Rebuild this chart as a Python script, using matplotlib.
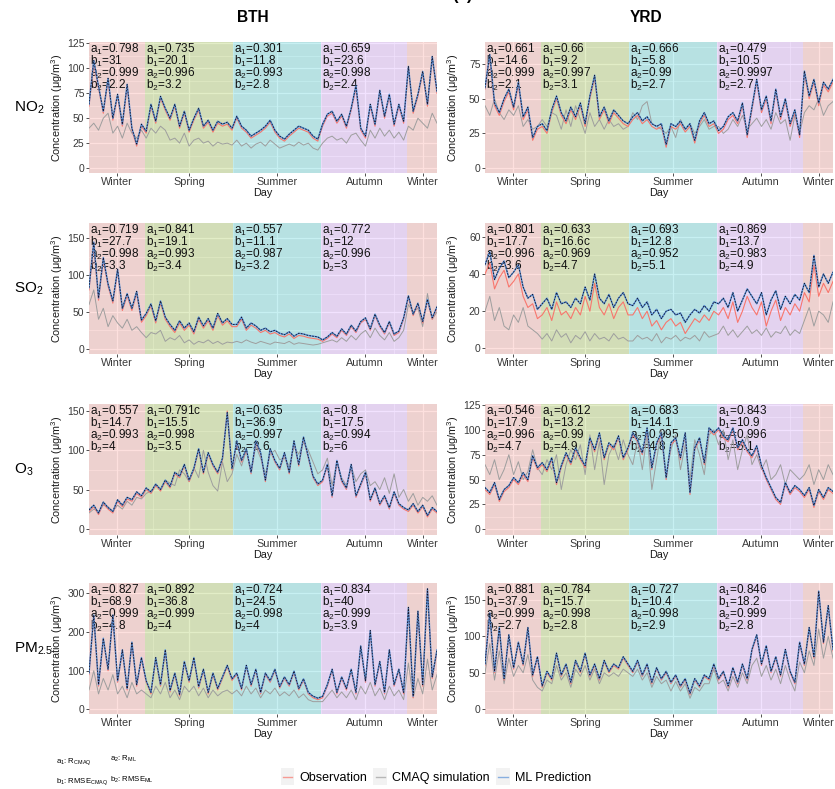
import matplotlib
matplotlib.use('Agg')
import matplotlib.pyplot as plt
from matplotlib import font_manager
from matplotlib.lines import Line2D
from matplotlib.patches import Rectangle
from matplotlib.legend_handler import HandlerBase
from matplotlib.ticker import FixedLocator, AutoMinorLocator

installed = {f.name for f in font_manager.fontManager.ttflist}
narrow = 'Liberation Sans Narrow' if 'Liberation Sans Narrow' in installed else 'Liberation Sans'

plt.rcParams['font.family'] = 'Liberation Sans'
plt.rcParams['mathtext.fontset'] = 'custom'
plt.rcParams['mathtext.rm'] = 'Liberation Sans'
plt.rcParams['mathtext.it'] = 'Liberation Sans:italic'
plt.rcParams['mathtext.bf'] = 'Liberation Sans:bold'
plt.rcParams['mathtext.sf'] = narrow

# sampled every 5 days through the year
days = list(range(0, 366, 5))
season_names = ['Winter', 'Spring', 'Summer', 'Autumn', 'Winter']
season_edges = [0, 59, 151, 243, 334, 365]
season_ticks = [29.5, 105, 197, 289, 350]
season_colors = ['#F8766D', '#7CAE00', '#00BFC4', '#C77CFF', '#F8766D']

# ---- NO2 ----
no2_bth_obs = [62,105,80,55,88,48,72,42,82,38,22,42,
               35,62,45,70,58,48,62,40,55,36,48,58,40,46,36,45,42,44,38,
               50,40,36,30,33,36,40,46,36,30,27,32,36,40,38,36,30,27,
               42,52,55,45,52,40,58,80,38,30,62,42,76,50,72,42,62,45,
               100,55,72,95,62,110,75]
no2_bth_ml = [64,108,82,57,90,50,74,44,84,40,24,44,
              37,64,47,72,60,50,64,42,57,38,50,60,42,48,38,47,44,46,40,
              52,42,38,32,35,38,42,48,38,32,29,34,38,42,40,38,32,29,
              44,54,57,47,54,42,60,83,40,32,64,44,78,52,74,44,64,47,
              102,57,74,97,64,112,77]
no2_bth_cmaq = [40,45,38,50,55,35,42,30,45,35,30,38,
                30,40,35,42,38,28,30,25,35,22,28,30,25,27,22,26,24,25,23,
                28,22,25,20,24,26,22,28,24,20,22,24,22,26,23,25,20,18,
                25,30,32,28,30,25,33,35,28,22,38,30,40,32,38,30,36,28,
                42,38,50,45,40,55,45]
no2_yrd_obs = [57,80,45,38,48,55,42,60,35,42,20,28,
               30,25,40,50,38,32,42,35,45,30,50,65,35,42,32,40,36,32,30,
               35,38,32,35,30,28,30,15,30,28,32,26,30,18,32,38,30,32,
               25,28,35,38,32,45,22,42,62,40,50,32,55,35,48,30,40,22,
               68,50,62,45,60,55,62]
no2_yrd_ml = [58,82,47,40,50,57,44,62,37,44,22,30,
              32,27,42,52,40,34,44,37,47,32,52,67,37,44,34,42,38,34,32,
              37,40,34,37,32,30,32,17,32,30,34,28,32,20,34,40,32,34,
              27,30,37,40,34,47,24,44,64,42,52,34,57,37,50,32,42,24,
              70,52,64,47,62,57,64]
no2_yrd_cmaq = [45,38,50,40,35,42,38,45,30,35,28,30,
                35,30,40,38,28,42,30,45,35,25,40,30,35,28,35,30,32,28,30,
                40,35,45,48,32,30,28,25,30,22,35,28,32,25,30,35,28,30,
                30,25,28,35,30,38,28,32,36,30,35,28,40,32,35,20,38,25,
                40,45,42,50,38,45,48]

# ---- SO2 ----
so2_bth_obs = [80,140,66,120,85,62,105,52,72,52,75,36,
               45,58,35,62,40,30,22,35,25,32,20,40,28,38,25,45,32,38,30,
               30,40,25,32,28,22,25,20,22,18,16,20,14,18,17,15,14,13,
               10,14,20,15,25,18,30,22,35,40,25,45,30,20,35,18,22,40,
               70,45,60,35,65,40,55]
so2_bth_ml = [83,145,69,124,88,65,108,55,75,55,78,39,
              48,61,38,65,43,33,25,38,28,35,23,43,31,41,28,48,35,41,33,
              33,43,28,35,31,25,28,23,25,21,19,23,17,21,20,18,17,16,
              12,16,22,17,27,20,32,24,37,42,27,47,32,22,37,20,24,42,
              72,47,62,37,67,42,57]
so2_bth_cmaq = [60,80,40,55,30,45,35,28,40,25,30,22,
                15,22,20,25,10,15,12,18,8,12,6,10,8,12,7,10,6,9,8,
                10,8,12,9,7,10,8,6,9,8,7,10,6,8,7,6,5,6,
                8,10,12,9,15,10,18,12,20,25,15,28,18,12,22,10,15,25,
                60,50,55,30,75,40,50]
so2_yrd_obs = [40,46,32,38,42,33,36,40,28,22,24,16,
               18,22,15,25,18,20,16,22,18,28,20,35,22,18,24,16,22,25,18,
               18,22,16,20,12,15,10,14,16,12,14,8,12,16,14,18,15,20,
               18,22,16,25,14,20,28,22,18,25,12,20,26,15,22,18,24,20,
               30,25,45,28,35,30,36]
so2_yrd_ml = [45,52,37,43,47,38,41,45,33,27,29,21,
              24,27,21,30,24,25,22,27,24,33,26,40,27,24,29,22,27,30,24,
              23,27,22,25,18,21,16,20,21,18,19,14,18,21,19,23,20,25,
              24,27,22,30,20,26,32,28,24,30,18,26,31,21,28,24,29,26,
              35,30,50,33,40,35,41]
so2_yrd_cmaq = [20,28,15,22,12,10,18,14,22,12,10,8,
                5,8,4,10,6,8,3,7,5,9,4,8,5,6,4,8,5,6,4,
                4,7,5,6,4,8,3,6,5,7,4,6,5,7,4,9,6,7,
                8,12,7,10,6,9,12,8,10,7,11,6,9,8,12,7,10,8,
                15,22,12,20,18,14,25]

# ---- O3 ----
o3_bth_obs = [22,28,18,32,25,20,35,28,38,35,45,40,
              50,45,55,48,60,52,70,65,80,60,75,100,70,95,80,70,88,150,75,
              110,85,100,70,110,95,60,100,85,75,95,70,110,80,115,90,65,55,
              60,80,40,85,60,50,80,40,55,70,35,50,30,40,25,45,30,25,
              22,30,20,28,15,25,20]
o3_bth_ml = [24,30,20,34,27,22,37,30,40,37,47,42,
             52,47,57,50,62,54,72,67,82,62,77,102,72,97,82,72,90,148,77,
             112,87,102,72,112,97,62,102,87,77,97,72,112,82,117,92,67,57,
             62,82,42,87,62,52,82,42,57,72,37,52,32,42,27,47,32,27,
             24,32,22,30,17,27,22]
o3_bth_cmaq = [20,25,22,30,28,22,30,25,35,30,40,38,
               45,48,55,50,62,58,55,75,70,60,78,65,100,72,55,48,85,60,70,
               95,80,100,75,105,90,70,95,100,88,90,80,105,95,110,100,85,70,
               75,90,55,85,65,55,80,60,70,75,55,60,50,65,45,70,40,50,
               35,45,30,40,35,42,30]
o3_yrd_obs = [40,35,45,28,38,42,50,45,55,48,72,60,
              65,58,70,45,62,75,65,80,70,62,90,78,95,70,85,80,92,70,80,
              95,88,75,100,60,85,95,50,85,90,70,95,35,80,90,65,100,95,
              100,92,88,100,80,88,78,72,82,62,50,40,30,25,45,35,42,38,
              32,40,22,38,30,40,36]
o3_yrd_ml = [42,37,47,30,40,44,52,47,57,50,74,62,
             67,60,72,47,64,77,67,82,72,64,92,80,97,72,87,82,94,72,82,
             97,90,77,102,62,87,97,52,87,92,72,97,37,82,92,67,102,97,
             102,94,90,102,82,90,80,74,84,64,52,42,32,27,47,37,44,40,
             34,42,24,40,32,42,38]
o3_yrd_cmaq = [65,55,70,50,60,75,55,68,50,58,80,62,
               55,70,60,75,40,65,80,70,85,55,95,60,88,45,75,85,70,90,75,
               65,90,60,95,40,70,100,55,80,95,60,85,50,90,75,55,95,100,
               85,100,70,90,60,80,95,65,75,60,70,50,55,65,45,60,55,50,
               55,65,45,60,50,65,55]

# ---- PM2.5 ----
pm_bth_obs = [90,240,60,180,100,240,70,150,50,170,60,130,
              70,40,130,60,150,45,90,35,120,70,130,55,100,40,90,50,80,110,75,
              90,50,110,60,100,40,90,70,100,55,80,60,95,50,75,40,30,25,
              30,60,100,40,80,50,100,40,160,70,200,60,120,40,150,60,100,40,
              260,30,250,60,310,80,150]
pm_bth_ml = [94,244,64,184,104,244,74,154,54,174,64,134,
             74,44,134,64,154,49,94,39,124,74,134,59,104,44,94,54,84,114,79,
             94,54,114,64,104,44,94,74,104,59,84,64,99,54,79,44,34,29,
             34,64,104,44,84,54,104,44,164,74,204,64,124,44,154,64,104,44,
             264,34,254,64,312,84,154]
pm_bth_cmaq = [50,100,40,80,50,90,40,60,30,70,40,50,
               40,30,60,40,70,30,50,25,60,45,60,35,55,30,50,35,45,50,40,
               50,35,60,40,55,30,50,40,55,35,45,35,50,30,40,25,20,20,
               20,35,50,30,45,30,50,25,60,40,70,35,55,25,60,35,50,25,
               120,30,80,40,130,50,90]
pm_yrd_obs = [60,130,50,110,40,100,55,90,60,110,45,70,
              30,50,40,75,45,60,35,65,50,75,45,60,40,65,50,60,55,70,60,
              50,65,45,60,35,55,40,50,35,45,30,40,20,40,30,45,40,60,
              40,50,30,55,35,60,40,80,100,60,85,50,70,45,80,50,35,90,
              60,110,70,160,90,140,80]
pm_yrd_ml = [62,132,52,112,42,102,57,92,62,112,47,72,
             32,52,42,77,47,62,37,67,52,77,47,62,42,67,52,62,57,72,62,
             52,67,47,62,37,57,42,52,37,47,32,42,22,42,32,47,42,62,
             42,52,32,57,37,62,42,82,102,62,87,52,72,47,82,52,37,92,
             62,112,72,162,92,142,82]
pm_yrd_cmaq = [50,90,40,80,35,70,45,60,50,75,40,30,
               25,40,35,60,40,50,30,55,45,60,40,55,35,50,45,50,45,55,50,
               45,55,40,50,30,45,35,40,25,38,25,35,15,30,25,35,35,55,
               35,40,25,45,30,50,35,60,70,45,60,40,55,35,60,40,25,65,
               50,80,60,110,70,100,70]

# season statistics (a1, b1, a2, b2)
no2_bth_stats = [('0.798', '31', '0.999', '2.2'), ('0.735', '20.1', '0.996', '3.2'),
                 ('0.301', '11.8', '0.993', '2.8'), ('0.659', '23.6', '0.998', '2.4')]
no2_yrd_stats = [('0.661', '14.6', '0.999', '2.1'), ('0.66', '9.2', '0.997', '3.1'),
                 ('0.666', '5.8', '0.99', '2.7'), ('0.479', '10.5', '0.9997', '2.7')]
so2_bth_stats = [('0.719', '27.7', '0.998', '3.3'), ('0.841', '19.1', '0.993', '3.4'),
                 ('0.557', '11.1', '0.987', '3.2'), ('0.772', '12', '0.996', '3')]
so2_yrd_stats = [('0.801', '17.7', '0.996', '3.6'), ('0.633', '16.6c', '0.969', '4.7'),
                 ('0.693', '12.8', '0.952', '5.1'), ('0.869', '13.7', '0.983', '4.9')]
o3_bth_stats = [('0.557', '14.7', '0.993', '4'), ('0.791c', '15.5', '0.998', '3.5'),
                ('0.635', '36.9', '0.997', '3.6'), ('0.8', '17.5', '0.994', '6')]
o3_yrd_stats = [('0.546', '17.9', '0.996', '4.7'), ('0.612', '13.2', '0.99', '4.9'),
                ('0.683', '14.1', '0.995', '4.8'), ('0.843', '10.9', '0.996', '5.1')]
pm_bth_stats = [('0.827', '68.9', '0.999', '4.8'), ('0.892', '36.8', '0.999', '4'),
                ('0.724', '24.5', '0.998', '4'), ('0.834', '40', '0.999', '3.9')]
pm_yrd_stats = [('0.881', '37.9', '0.999', '2.7'), ('0.784', '15.7', '0.998', '2.8'),
                ('0.727', '10.4', '0.998', '2.9'), ('0.846', '18.2', '0.999', '2.8')]

pollutants = ['NO$_2$', 'SO$_2$', 'O$_3$', 'PM$_{2.5}$']
regions = ['BTH', 'YRD']

panels = [
    [(no2_bth_obs, no2_bth_cmaq, no2_bth_ml, no2_bth_stats, (-5, 126.5), [0, 25, 50, 75, 100, 125]),
     (no2_yrd_obs, no2_yrd_cmaq, no2_yrd_ml, no2_yrd_stats, (-3.6, 91), [0, 25, 50, 75])],
    [(so2_bth_obs, so2_bth_cmaq, so2_bth_ml, so2_bth_stats, (-7.2, 171), [0, 50, 100, 150]),
     (so2_yrd_obs, so2_yrd_cmaq, so2_yrd_ml, so2_yrd_stats, (-3, 67.4), [0, 20, 40, 60])],
    [(o3_bth_obs, o3_bth_cmaq, o3_bth_ml, o3_bth_stats, (-8, 159), [0, 50, 100, 150]),
     (o3_yrd_obs, o3_yrd_cmaq, o3_yrd_ml, o3_yrd_stats, (-5.7, 126), [0, 25, 50, 75, 100, 125])],
    [(pm_bth_obs, pm_bth_cmaq, pm_bth_ml, pm_bth_stats, (-12, 327), [0, 100, 200, 300]),
     (pm_yrd_obs, pm_yrd_cmaq, pm_yrd_ml, pm_yrd_stats, (-6.5, 173), [0, 50, 100, 150])],
]

obs_color = '#F8766D'
cmaq_color = '#9E9E9E'
ml_color = '#5B93D8'

W, H = 835, 789
fig = plt.figure(figsize=(W / 100, H / 100), dpi=100)

col_left = [89, 485]
row_top = [42, 223, 404, 583]
pw, ph = 348, 131


def draw_panel(ax, obs, cmaq, ml, stats, ylim, yticks):
    ax.set_facecolor('#EBEBEB')
    for i in range(5):
        ax.axvspan(season_edges[i], season_edges[i + 1], color=season_colors[i],
                   alpha=0.22, lw=0, zorder=1)
    ax.set_xlim(0, 365)
    ax.set_ylim(*ylim)
    ax.set_xticks(season_ticks)
    ax.set_xticklabels(season_names)
    ax.xaxis.set_minor_locator(FixedLocator([67.25, 151, 243, 319.5]))
    ax.set_yticks(yticks)
    ax.yaxis.set_minor_locator(AutoMinorLocator(2))
    ax.grid(which='major', color='white', lw=0.9, zorder=0)
    ax.grid(which='minor', color='white', lw=0.45, zorder=0)
    ax.set_axisbelow(True)
    for s in ax.spines.values():
        s.set_visible(False)
    ax.tick_params(which='major', length=2, width=0.6, color='#333333',
                   labelcolor='#3a3a3a', pad=1.2)
    ax.tick_params(axis='x', labelsize=7.8)
    ax.tick_params(axis='y', labelsize=7.5)
    ax.tick_params(which='minor', length=0)

    for k, (a1, b1, a2, b2) in enumerate(stats):
        lines = ['a$_1$=' + a1, 'b$_1$=' + b1, 'a$_2$=' + a2, 'b$_2$=' + b2]
        for j, t in enumerate(lines):
            ax.annotate(t, xy=(season_edges[k] + 1, 1.0), xycoords=('data', 'axes fraction'),
                        xytext=(0, -j * 8.7), textcoords='offset points',
                        ha='left', va='top', fontsize=8.5, color='#111111', zorder=2)

    ax.plot(days, cmaq, color=cmaq_color, lw=0.7, zorder=3)
    ax.plot(days, obs, color=obs_color, lw=0.8, zorder=4)
    ax.plot(days, ml, color=ml_color, lw=1.1, zorder=5)
    ax.plot(days, ml, color='#14142a', lw=0.6, ls=(0, (2, 1.5)), zorder=6)

    ax.set_ylabel('Concentration (μg/m$^3$)', fontsize=7.8, color='#1a1a1a')
    ax.yaxis.set_label_coords(-0.07, 0.5)
    ax.set_xlabel('Day', fontsize=7.8, color='#1a1a1a', va='top')
    ax.xaxis.set_label_coords(0.5, -0.115)


for r in range(4):
    for c in range(2):
        ax = fig.add_axes([col_left[c] / W, 1 - (row_top[r] + ph) / H, pw / W, ph / H])
        draw_panel(ax, *panels[r][c])
    fig.text(14 / W, 1 - (row_top[r] + ph / 2) / H, pollutants[r], fontsize=11,
             ha='left', va='center')

fig.text(253 / W, 1 - 18 / H, regions[0], fontsize=11.2, fontweight='bold', ha='center', va='center')
fig.text(646 / W, 1 - 18 / H, regions[1], fontsize=11.2, fontweight='bold', ha='center', va='center')
fig.text(462 / W, 1 - 3 / H, '(a)', fontsize=12, fontweight='bold', ha='center', va='bottom')

# notes for the statistics
note_size = 7.2 if narrow != 'Liberation Sans' else 5.6
fig.text(56 / W, 1 - 762 / H, 'a$_1$: R$_{\\mathsf{CMAQ}}$', fontsize=note_size,
         family=narrow, va='center')
fig.text(56 / W, 1 - 782 / H, 'b$_1$: RMSE$_{\\mathsf{CMAQ}}$', fontsize=note_size,
         family=narrow, va='center')
fig.text(110 / W, 1 - 759 / H, 'a$_2$: R$_{\\mathsf{ML}}$', fontsize=note_size,
         family=narrow, va='center')
fig.text(110 / W, 1 - 780 / H, 'b$_2$: RMSE$_{\\mathsf{ML}}$', fontsize=note_size,
         family=narrow, va='center')


class KeyHandler(HandlerBase):
    def create_artists(self, legend, orig_handle, xdescent, ydescent, width, height,
                       fontsize, trans):
        bg = Rectangle((-xdescent, -ydescent - height * 0.45), width, height * 1.9,
                       facecolor='#F2F2F2', edgecolor='none', transform=trans)
        ln = Line2D([-xdescent + width * 0.15, -xdescent + width * 0.85],
                    [-ydescent + height / 2] * 2, color=orig_handle.get_color(),
                    lw=1.0, alpha=0.7, transform=trans)
        return [bg, ln]


handles = [Line2D([], [], color=obs_color), Line2D([], [], color=cmaq_color),
           Line2D([], [], color=ml_color)]
fig.legend(handles, ['Observation', 'CMAQ simulation', 'ML Prediction'],
           loc='center', bbox_to_anchor=(0.522, 1 - 778 / H), ncol=3, frameon=False,
           fontsize=9, handler_map={Line2D: KeyHandler()}, handlelength=1.1,
           handletextpad=0.4, columnspacing=0.5)

fig.savefig('out.png', dpi=100)
